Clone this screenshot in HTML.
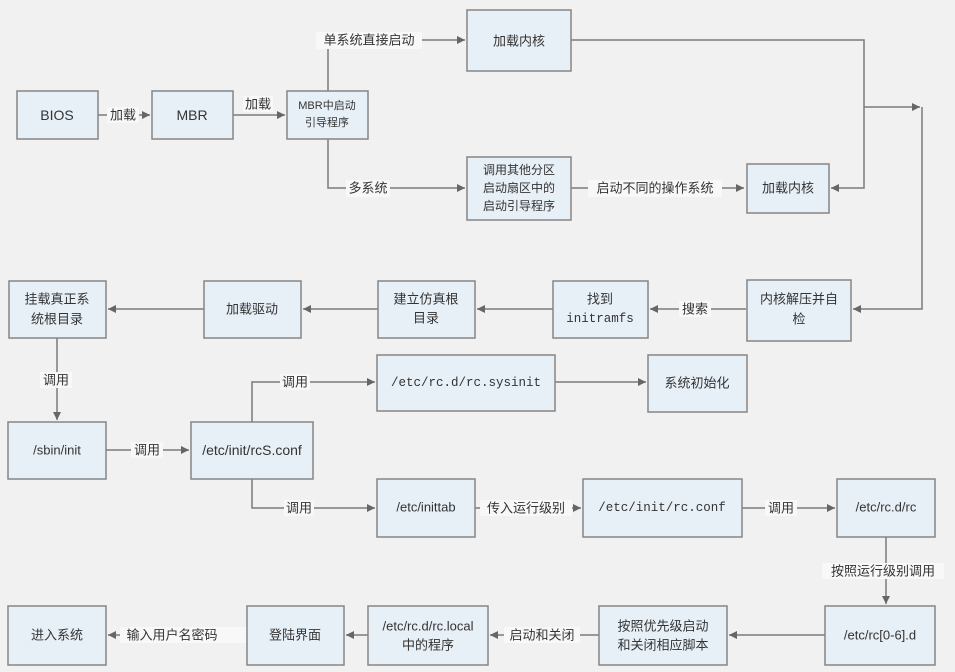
<!DOCTYPE html>
<html><head><meta charset="utf-8"><style>
html,body{margin:0;padding:0;background:#f1f1f1;}
svg{display:block}
.b{fill:#e8f0f7;stroke:#858585;stroke-width:1.5}
.l{stroke:#7a7a7a;stroke-width:1.5;fill:none}
text{font-family:"Liberation Sans","Noto Sans CJK SC",sans-serif;font-size:13px;fill:#333;text-anchor:middle;dominant-baseline:central}
.m{font-family:"Liberation Mono","Noto Sans CJK SC",monospace;font-size:12.5px}
.lb{fill:#f8f8f8}
</style></head><body>
<svg width="955" height="672" viewBox="0 0 955 672">
<defs><marker id="a" markerWidth="10" markerHeight="10" refX="8" refY="4" orient="auto" markerUnits="userSpaceOnUse"><path d="M0,0 L8,4 L0,8 z" fill="#666"/></marker></defs>
<rect width="955" height="672" fill="#f1f1f1"/>
<!-- connectors -->
<g class="l">
<path d="M98,115 H150" marker-end="url(#a)"/>
<path d="M233,115 H285" marker-end="url(#a)"/>
<path d="M328,91 V40 H465" marker-end="url(#a)"/>
<path d="M328,139 V188 H465" marker-end="url(#a)"/>
<path d="M571,188 H744" marker-end="url(#a)"/>
<path d="M571,40 H864 V188 H831" marker-end="url(#a)"/>
<path d="M864,107 H920" marker-end="url(#a)"/>
<path d="M922,107 V309 H853" marker-end="url(#a)"/>
<path d="M746,309 H650" marker-end="url(#a)"/>
<path d="M553,309 H477" marker-end="url(#a)"/>
<path d="M378,309 H303" marker-end="url(#a)"/>
<path d="M204,309 H108" marker-end="url(#a)"/>
<path d="M57,338 V420" marker-end="url(#a)"/>
<path d="M106,450 H189" marker-end="url(#a)"/>
<path d="M252,422 V382 H375" marker-end="url(#a)"/>
<path d="M555,382 H646" marker-end="url(#a)"/>
<path d="M252,479 V508 H375" marker-end="url(#a)"/>
<path d="M475,508 H581" marker-end="url(#a)"/>
<path d="M742,508 H835" marker-end="url(#a)"/>
<path d="M886,537 V604" marker-end="url(#a)"/>
<path d="M825,635 H729" marker-end="url(#a)"/>
<path d="M599,635 H490" marker-end="url(#a)"/>
<path d="M368,635 H346" marker-end="url(#a)"/>
<path d="M247,635 H108" marker-end="url(#a)"/>
</g>
<!-- label backgrounds -->
<g class="lb">
<rect x="107" y="107" width="32" height="16"/>
<rect x="243" y="96" width="30" height="16"/>
<rect x="316" y="32" width="106" height="17"/>
<rect x="346" y="180" width="44" height="17"/>
<rect x="588" y="180" width="134" height="17"/>
<rect x="679" y="301" width="32" height="16"/>
<rect x="40" y="372" width="32" height="16"/>
<rect x="131" y="442" width="32" height="16"/>
<rect x="280" y="374" width="30" height="16"/>
<rect x="284" y="500" width="30" height="16"/>
<rect x="480" y="500" width="92" height="16"/>
<rect x="765" y="500" width="32" height="16"/>
<rect x="822" y="563" width="122" height="16"/>
<rect x="504" y="627" width="76" height="16"/>
<rect x="120" y="627" width="134" height="16"/>
</g>
<!-- labels -->
<text x="123" y="115">加载</text>
<text x="258" y="104">加载</text>
<text x="369" y="40">单系统直接启动</text>
<text x="368" y="188">多系统</text>
<text x="655" y="188">启动不同的操作系统</text>
<text x="695" y="309">搜索</text>
<text x="56" y="380">调用</text>
<text x="147" y="450">调用</text>
<text x="295" y="382">调用</text>
<text x="299" y="508">调用</text>
<text x="526" y="508">传入运行级别</text>
<text x="781" y="508">调用</text>
<text x="883" y="571">按照运行级别调用</text>
<text x="542" y="635">启动和关闭</text>
<text x="172" y="635">输入用户名密码</text>
<!-- boxes -->
<rect class="b" x="17" y="91" width="81" height="48"/><text x="57" y="115" style="font-size:14px">BIOS</text>
<rect class="b" x="152" y="91" width="81" height="48"/><text x="192" y="115" style="font-size:14px">MBR</text>
<rect class="b" x="287" y="91" width="81" height="48"/><text x="327" y="106" style="font-size:11px">MBR中启动</text><text x="327" y="123" style="font-size:11px">引导程序</text>
<rect class="b" x="467" y="10" width="104" height="61"/><text x="519" y="41">加载内核</text>
<rect class="b" x="467" y="157" width="104" height="63"/><text x="519" y="170" style="font-size:12px">调用其他分区</text><text x="519" y="188" style="font-size:12px">启动扇区中的</text><text x="519" y="206" style="font-size:12px">启动引导程序</text>
<rect class="b" x="747" y="164" width="82" height="49"/><text x="788" y="188">加载内核</text>
<rect class="b" x="747" y="280" width="104" height="61"/><text x="799" y="299">内核解压并自</text><text x="799" y="319">检</text>
<rect class="b" x="553" y="281" width="95" height="57"/><text x="600" y="299">找到</text><text class="m" x="600" y="319">initramfs</text>
<rect class="b" x="378" y="281" width="97" height="57"/><text x="426" y="299">建立仿真根</text><text x="426" y="318">目录</text>
<rect class="b" x="204" y="281" width="97" height="57"/><text x="252" y="309">加载驱动</text>
<rect class="b" x="9" y="281" width="97" height="57"/><text x="57" y="299">挂载真正系</text><text x="57" y="319">统根目录</text>
<rect class="b" x="8" y="422" width="98" height="57"/><text x="57" y="450">/sbin/init</text>
<rect class="b" x="191" y="422" width="122" height="57"/><text x="252" y="450" style="font-size:14px">/etc/init/rcS.conf</text>
<rect class="b" x="377" y="355" width="178" height="56"/><text class="m" x="466" y="383">/etc/rc.d/rc.sysinit</text>
<rect class="b" x="648" y="355" width="99" height="57"/><text x="697" y="383">系统初始化</text>
<rect class="b" x="377" y="479" width="98" height="58"/><text x="426" y="507">/etc/inittab</text>
<rect class="b" x="583" y="479" width="159" height="58"/><text class="m" x="662" y="508">/etc/init/rc.conf</text>
<rect class="b" x="837" y="479" width="98" height="58"/><text x="886" y="507">/etc/rc.d/rc</text>
<rect class="b" x="825" y="606" width="110" height="59"/><text x="880" y="635">/etc/rc[0-6].d</text>
<rect class="b" x="599" y="606" width="128" height="59"/><text x="663" y="626">按照优先级启动</text><text x="663" y="645">和关闭相应脚本</text>
<rect class="b" x="368" y="606" width="120" height="59"/><text x="428" y="626">/etc/rc.d/rc.local</text><text x="428" y="645">中的程序</text>
<rect class="b" x="247" y="606" width="97" height="59"/><text x="295" y="635">登陆界面</text>
<rect class="b" x="8" y="606" width="98" height="59"/><text x="57" y="635">进入系统</text>
</svg>
</body></html>
